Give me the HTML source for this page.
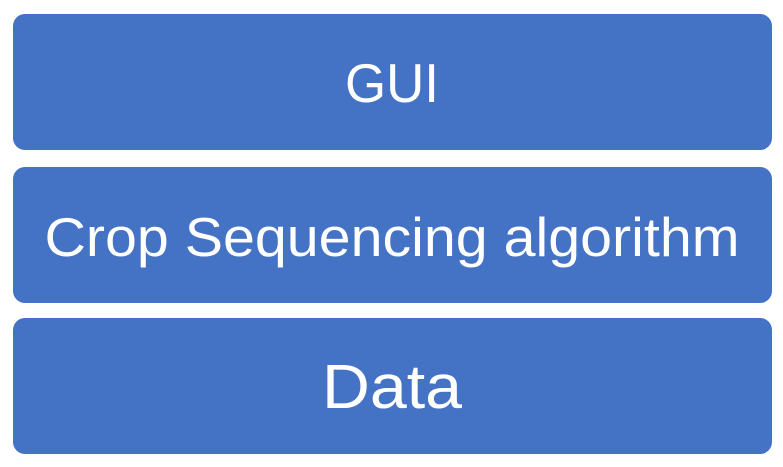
<!DOCTYPE html>
<html><head><style>html,body{margin:0;padding:0;background:#fff;width:783px;height:467px;overflow:hidden}</style></head>
<body>
<svg width="783" height="467" xmlns="http://www.w3.org/2000/svg">
<g fill="#4472C4">
<rect x="13" y="14" width="759" height="136" rx="12"/>
<rect x="13" y="167" width="759" height="136" rx="12"/>
<rect x="13" y="318" width="759" height="136" rx="12"/>
</g>
<g fill="#fff" font-family="Liberation Sans, sans-serif" text-anchor="middle">
<text x="392" y="102" font-size="55" textLength="94" lengthAdjust="spacingAndGlyphs">GUI</text>
<text x="392" y="256" font-size="55" textLength="695" lengthAdjust="spacingAndGlyphs">Crop Sequencing algorithm</text>
<text x="392" y="408" font-size="62" textLength="140" lengthAdjust="spacingAndGlyphs">Data</text>
</g>
</svg>
</body></html>
